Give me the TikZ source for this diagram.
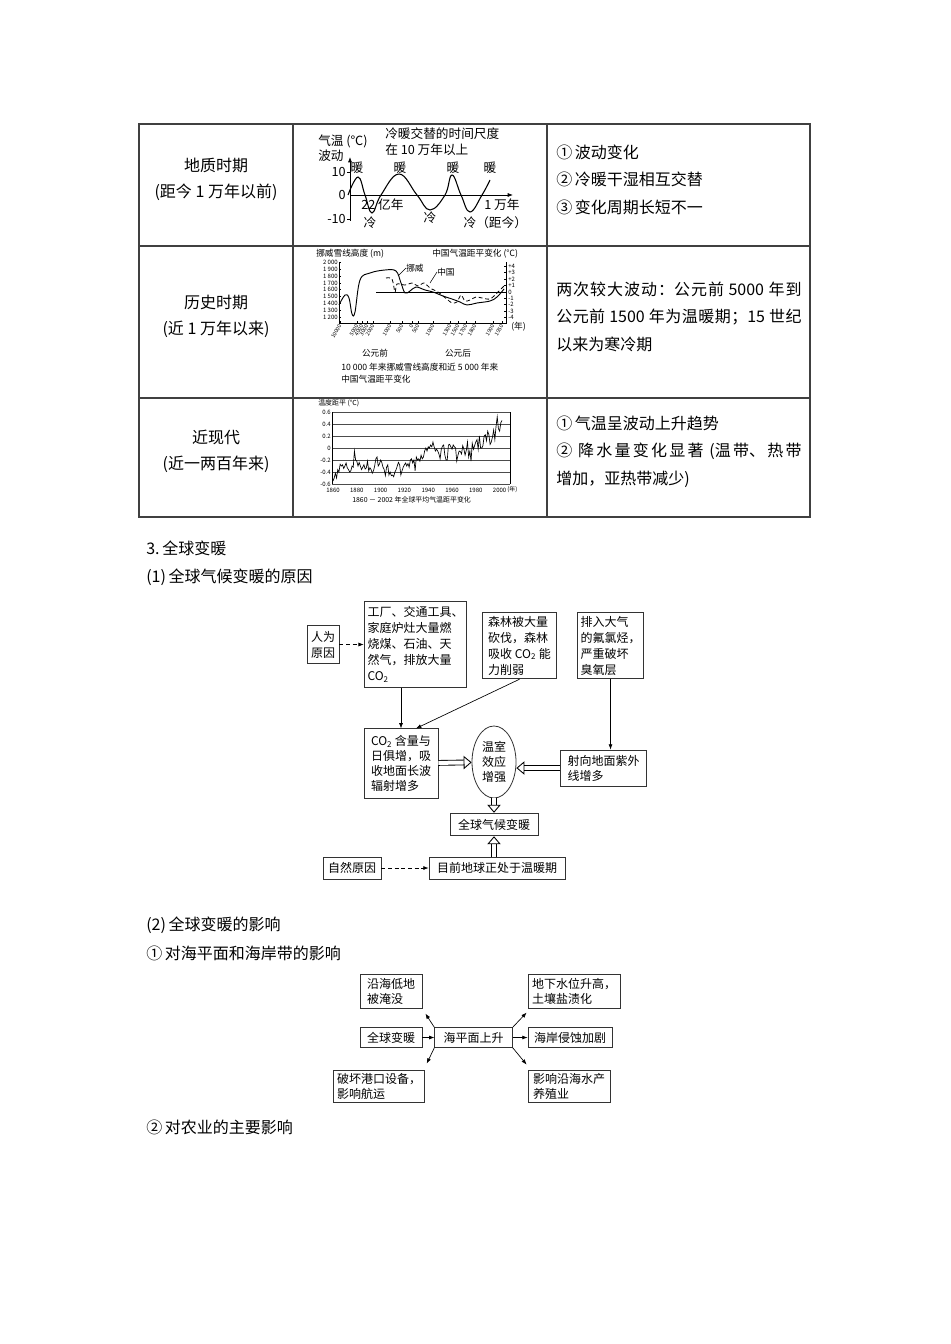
\documentclass[tikz,border=0pt]{standalone}
\usepackage{fontspec}
\setmainfont{Noto Sans CJK SC}
\usepackage{tikz}
\usetikzlibrary{arrows.meta,positioning,calc,shapes.geometric}
\newcommand{\cotwo}{CO\textsubscript{2}}
\newcommand{\fsz}[2]{\fontsize{#1}{#2}\selectfont}
\newcommand{\gp}{\hspace{0pt plus 1fil}}

\begin{document}
\begin{tikzpicture}[
    x=0.75pt, y=-0.75pt,
    >={Latex[length=4pt,width=3pt]},
    every node/.style={inner sep=0pt},
    tablerule/.style={draw=black!75, line width=0.8pt},
    bodytext/.style={anchor=west, font=\fsz{12}{14}},
    lefttxt/.style={align=center, font=\fsz{12}{20}},
    righttxt/.style={anchor=west, align=left, font=\fsz{12}{20.6}},
    chartone/.style={font=\fsz{9.5}{11}},
    charttwo/.style={font=\fsz{6.5}{8}},
    chartcap/.style={font=\fsz{5.2}{6}},
    tinylab/.style={font=\fsz{4.5}{5}},
    flowbox/.style={draw=black!80, line width=0.6pt, align=left, inner sep=2.5pt, font=\fsz{9}{12}},
    flowboxb/.style={flowbox, inner ysep=2pt, font=\fsz{9}{11.3}},
    dasharrow/.style={->, densely dashed, line width=0.5pt},
    linkarrow/.style={->, line width=0.5pt},
    hollowarrow/.style={double, double distance=3pt, line width=0.65pt, -{Triangle[open,length=6pt,width=10pt]}}
]
\fill[white] (0,0) rectangle (950,1344);
\useasboundingbox (0,0) rectangle (950,1344);

% table
\draw[tablerule] (139,124) rectangle (810,517);
\draw[tablerule] (293,124) -- (293,517) (547,124) -- (547,517);
\draw[tablerule] (139,246) -- (810,246) (139,398) -- (810,398);
\node[lefttxt] (geo) at (216,179.5) {地质时期\\(距今 1 万年以前)};
\node[lefttxt] (hist) at (216,316.5) {历史时期\\(近 1 万年以来)};
\node[lefttxt] (modern) at (216,451.5) {近现代\\(近一两百年来)};
\node[righttxt] (featgeo) at (556,179.5) {①\,波动变化\\②\,冷暖干湿相互交替\\③\,变化周期长短不一};
\node[righttxt] (feathist) at (556,316.5) {\makebox[184pt][s]{两\gp 次\gp 较\gp 大\gp 波\gp 动\gp ：公\gp 元\gp 前\gp\ 5000\ \gp 年\gp 到}\\\makebox[184pt][s]{公\gp 元\gp 前\gp\ 1500\ \gp 年\gp 为\gp 温\gp 暖\gp 期\gp ；15\ \gp 世\gp 纪}\\以来为寒冷期};
\node[righttxt] (featmod) at (556,451.5) {①\,气温呈波动上升趋势\\\makebox[184pt][s]{②\gp\ 降\gp 水\gp 量\gp 变\gp 化\gp 显\gp 著\gp\ (温\gp 带、\gp 热\gp 带}\\增加，亚热带减少)};

% chart: geological period
\draw[line width=0.5pt, ->] (350,221) -- (350,157);
\draw[line width=0.5pt, ->] (350,195) -- (513,195);
\draw[line width=0.5pt] (347,172) -- (350,172) (347,219) -- (350,219);
\node[chartone, anchor=east] (yten) at (346,172) {10};
\node[chartone, anchor=east] (yzero) at (346,195) {0};
\node[chartone, anchor=east] (ymten) at (346,219) {-10};
\node[chartone, anchor=west] (yname) at (318,141) {气温 (℃)};
\node[chartone, anchor=west] (yname2) at (318,156) {波动};
\node[chartone, anchor=west] (scale1) at (385,134) {冷暖交替的时间尺度};
\node[chartone, anchor=west] (scale2) at (385,150) {在 10 万年以上};
\draw[line width=0.8pt] plot[smooth, tension=0.7] coordinates {(348,195) (358,177) (365,195) (372,213) (381,195) (399,174) (417,195) (430,210) (445,195) (452,175) (461,195) (470,212) (482,195) (490,180)};
\foreach \wx in {357,400,453,490} \node[chartone] (warm\wx) at (\wx,168) {暖};
\foreach \cx/\cy in {370/223,430/218,470/223} \node[chartone] (cold\cx) at (\cx,\cy) {冷};
\node[chartone, anchor=west] (start) at (361,205) {22 亿年};
\node[chartone, anchor=west] (end) at (484,205) {1 万年};
\node[chartone, anchor=west] (now) at (476,223) {（距今）};

% chart: historical period
\node[charttwo, anchor=west] (snowttl) at (316,254) {挪威雪线高度 (m)};
\node[charttwo, anchor=west] (cnttl) at (432,254) {中国气温距平变化 (℃)};
\draw[line width=0.4pt] (339,262) -- (339,323) -- (506,323) -- (506,262);
\draw[line width=0.5pt] (376,292) -- (506,292);
\foreach \ly/\lv in {262/2 000,269/1 900,276/1 800,283/1 700,289/1 600,296/1 500,303/1 400,310/1 300,317/1 200} {
    \draw[line width=0.3pt] (339,\ly) -- (341,\ly);
    \node[tinylab, anchor=east] (sn\ly) at (338,\ly) {\lv};
}
\foreach \ry/\rv in {266/+4,272/+3,279/+2,285/+1,292/0,298/-1,304/-2,311/-3,317/-4} {
    \draw[line width=0.3pt] (504,\ry) -- (506,\ry);
    \node[tinylab, anchor=west] (cn\ry) at (508,\ry) {\rv};
}
\foreach \tx/\tl in {340/10000,357/5000,362/4000,367/3000,373/2000,390/1000,402/500,412/0,418/500,433/1000,450/1300,458/1500,466/1700,475/1800,493/1900,502/1950} {
    \draw[line width=0.3pt] (\tx,323) -- (\tx,321);
    \node[font=\fsz{4}{4.5}, rotate=60, anchor=east] (xl\tx) at (\tx,325) {\tl};
}
\node[charttwo, anchor=west] (yearunit) at (511,327) {(年)};
\node[charttwo] (bc) at (375,353) {公元前};
\node[charttwo] (ad) at (458,353) {公元后};
\node[charttwo, anchor=west] (cap1) at (341,367) {10 000 年来挪威雪线高度和近 5 000 年来};
\node[charttwo, anchor=west] (cap2) at (341,379) {中国气温距平变化};
\draw[line width=0.7pt] plot[smooth, tension=0.6] coordinates {(339,305) (345,295) (349,298) (352,314) (355,312) (360,280) (370,273) (385,270) (396,271) (401,283) (405,293) (410,291) (416,287) (425,290) (433,292) (443,296) (452,299) (460,302) (467,305) (477,303) (490,301) (497,297) (504,289)};
\draw[line width=0.6pt, densely dashed] plot[smooth, tension=0.5] coordinates {(386,278) (392,279) (395,292) (397,284) (405,285) (412,283) (418,286) (424,283) (430,288) (438,292) (443,296) (448,300) (452,303) (457,302) (461,295) (465,301) (470,300) (476,297) (482,298) (490,299) (497,293) (504,286)};
\node[charttwo, anchor=west] (norway) at (406,268) {挪威};
\node[charttwo, anchor=west] (china) at (437,272) {中国};
\draw[line width=0.4pt] (norway.west) -- (398,276);
\draw[line width=0.4pt] (china.west) -- (430,283);

% chart: modern period
\node[chartcap, anchor=west] (dttl) at (318,403) {温度距平 (℃)};
\foreach \gy/\gv in {412/0.6,424/0.4,436/0.2,448/0,460/-0.2,472/-0.4,484/-0.6} {
    \draw[line width=0.35pt, black!70] (332,\gy) -- (510,\gy);
    \node[tinylab, anchor=east] (dv\gy) at (331,\gy) {\gv};
}
\draw[line width=0.35pt] (332,412) -- (332,484) (510,412) -- (510,484);
\foreach \yr in {1860,1880,...,2000} \node[tinylab] (yr\yr) at ({333+(\yr-1860)*1.19},490) {\yr};
\node[tinylab, anchor=west] (yrunit) at (507,490) {(年)};
\node[chartcap, anchor=west] (dcap) at (352,500) {1860 － 2002 年全球平均气温距平变化};
\begin{scope}[shift={(333,448)}, xscale=1.19, yscale=-60]
\draw[line width=0.5pt] plot coordinates {(0,-.55) (1,-.5) (2,-.42) (3,-.5) (4,-.36) (5,-.4) (6,-.27) (7,-.3) (8,-.28) (9,-.34) (10,-.3) (11,-.25) (12,-.33) (13,-.36) (14,-.4) (15,-.38) (16,-.3) (17,-.32) (18,-.05) (19,-.2) (20,-.22) (21,-.3) (22,-.24) (23,-.3) (24,-.36) (25,-.32) (26,-.28) (27,-.35) (28,-.33) (29,-.22) (30,-.38) (31,-.33) (32,-.36) (33,-.42) (34,-.38) (35,-.3) (36,-.18) (37,-.15) (38,-.3) (39,-.27) (40,-.2) (41,-.24) (42,-.32) (43,-.36) (44,-.46) (45,-.32) (46,-.28) (47,-.45) (48,-.4) (49,-.46) (50,-.45) (51,-.48) (52,-.4) (53,-.36) (54,-.3) (55,-.24) (56,-.28) (57,-.45) (58,-.38) (59,-.32) (60,-.28) (61,-.25) (62,-.3) (63,-.26) (64,-.32) (65,-.2) (66,-.18) (67,-.25) (68,-.2) (69,-.38) (70,-.15) (71,-.2) (72,-.18) (73,-.22) (74,-.12) (75,-.18) (76,-.15) (77,-.05) (78,0) (79,-.05) (80,.02) (81,0) (82,.05) (83,.02) (84,.1) (85,.02) (86,-.05) (87,-.02) (88,-.05) (89,-.1) (90,-.18) (91,-.02) (92,.03) (93,.05) (94,-.12) (95,-.2) (96,-.2) (97,.05) (98,.06) (99,.02) (100,-.02) (101,.05) (102,.02) (103,0) (104,-.22) (105,-.12) (106,-.05) (107,-.06) (108,-.1) (109,.04) (110,-.02) (111,-.12) (112,-.04) (113,.1) (114,-.15) (115,-.05) (116,-.22) (117,.08) (118,-.02) (119,.04) (120,.1) (121,.14) (122,-.02) (123,.2) (124,0) (125,0) (126,.04) (127,.2) (128,.22) (129,.12) (130,.28) (131,.22) (132,.06) (133,.1) (134,.18) (135,.3) (136,.14) (137,.36) (138,.52) (139,.32) (140,.28) (141,.42) (142,.46)};
\end{scope}

% headings
\node[bodytext] (h3) at (146,548) {3.\,全球变暖};
\node[bodytext] (h31) at (146,577) {(1)\,全球气候变暖的原因};
\node[bodytext] (h32) at (146,925) {(2)\,全球变暖的影响};
\node[bodytext] (h321) at (146,953) {①\,对海平面和海岸带的影响};
\node[bodytext] (h322) at (146,1127) {②\,对农业的主要影响};

% causes
\node[flowbox, minimum width=24pt, minimum height=29pt] (human) at (323,644.5) {人为\\原因};
\node[flowbox, minimum width=77pt, minimum height=65pt] (fuel) at (415.5,644.5) {工厂、交通工具、\\家庭炉灶大量燃\\烧煤、石油、天\\然气，排放大量\\\cotwo};
\node[flowbox, minimum width=56pt, minimum height=50pt] (forest) at (519.5,645.5) {森林被大量\\砍伐，森林\\吸收 \cotwo{} 能\\力削弱};
\node[flowbox, minimum width=49pt, minimum height=50pt] (cfc) at (610.5,645.5) {排入大气\\的氟氯烃，\\严重破坏\\臭氧层};
\node[flowbox, minimum width=55.5pt, minimum height=52pt, font=\fsz{9}{11.3}] (absorb) at (401,763.5) {\cotwo{} 含量与\\日俱增，吸\\收地面长波\\辐射增多};
\node[draw=black!80, line width=0.6pt, ellipse, minimum width=33pt, minimum height=54pt, align=center, font=\fsz{9}{11.3}] (effect) at (494,762) {温室\\效应\\增强};
\node[flowbox, minimum width=64pt, minimum height=27pt, font=\fsz{9}{11.3}] (uv) at (603.5,768) {射向地面紫外\\线增多};
\node[flowbox, minimum width=66pt, minimum height=17pt, align=center] (warming) at (494,824.5) {全球气候变暖};
\node[flowbox, minimum width=43.5pt, minimum height=16.5pt] (natural) at (352,868) {自然原因};
\node[flowbox, minimum width=102pt, minimum height=16.5pt] (period) at (497,868) {目前地球正处于温暖期};

\draw[dasharrow] (human) -- (fuel);
\draw[linkarrow] (fuel.south -| absorb.north) -- (absorb.north);
\draw[linkarrow] (forest.south) -- ($(absorb.north)!0.4!(absorb.north east)$);
\draw[linkarrow] (cfc.south) -- (cfc.south |- uv.north);
\draw[hollowarrow] (absorb) -- (effect);
\draw[hollowarrow] (uv.west) -- (uv.west -| effect.east);
\draw[hollowarrow] (effect) -- (warming);
\draw[hollowarrow] (warming.south |- period.north) -- (warming.south);
\draw[dasharrow] (natural) -- (period);

% sea level
\node[flowboxb, minimum width=46.5pt, minimum height=25pt] (lowland) at (391,991.5) {沿海低地\\被淹没};
\node[flowboxb, minimum width=46.5pt, minimum height=14.5pt] (global) at (391,1037.5) {全球变暖};
\node[flowboxb, minimum width=58pt, minimum height=14.5pt] (sealevel) at (473.5,1037.5) {海平面上升};
\node[flowboxb, minimum width=66pt, minimum height=24pt] (harbour) at (379,1086) {破坏港口设备，\\影响航运};
\node[flowboxb, minimum width=69pt, minimum height=25pt] (salinity) at (574,991.5) {地下水位升高，\\土壤盐渍化};
\node[flowboxb, minimum width=63pt, minimum height=14.5pt] (coast) at (570,1037.5) {海岸侵蚀加剧};
\node[flowboxb, minimum width=61.5pt, minimum height=24pt] (fishery) at (569,1086) {影响沿海水产\\养殖业};

\draw[linkarrow] (global) -- (sealevel);
\draw[linkarrow] (sealevel) -- (coast);
\draw[linkarrow] (sealevel.north west) -- ($(lowland.south east)+(3,5)$);
\draw[linkarrow] (sealevel.south west) -- ($(harbour.north east)+(2,-6)$);
\draw[linkarrow] (sealevel.north east) -- ($(salinity.south west)+(-1,4)$);
\draw[linkarrow] (sealevel.south east) -- ($(fishery.north west)+(-1,-5)$);
\end{tikzpicture}
\end{document}
